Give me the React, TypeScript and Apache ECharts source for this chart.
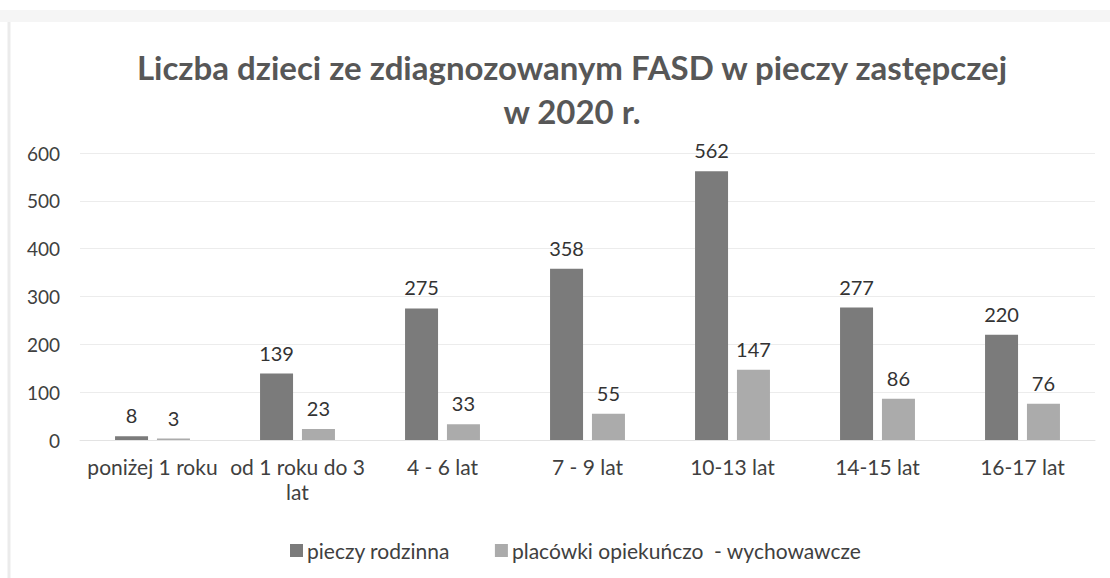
import React, { useEffect, useRef } from "react";
import * as echarts from "echarts";

const categories = ["poniżej 1 roku", "od 1 roku do 3\nlat", "4 - 6 lat", "7 - 9 lat", "10-13 lat", "14-15 lat", "16-17 lat"];
const seriesNames = ["pieczy rodzinna", "placówki opiekuńczo  - wychowawcze"];
const rodzinna = [8, 139, 275, 358, 562, 277, 220];
const placowki = [3, 23, 33, 55, 147, 86, 76];
const yTicks = { min: 0, max: 600, interval: 100 };
const titleText = "Liczba dzieci ze zdiagnozowanym FASD w pieczy zastępczej\nw 2020 r.";

export default function App() {
  const ref = useRef<HTMLDivElement>(null);
  useEffect(() => {
    document.body.style.margin = "0";
    const chart = echarts.init(ref.current!, null, { renderer: "svg" });
    const font = "Lato";
    chart.setOption({
      animation: false,
      backgroundColor: "#ffffff",
      title: {
        text: titleText,
        left: 567,
        textAlign: "center",
        top: 40,
        textStyle: {
          fontFamily: font,
          fontWeight: "bold",
          fontSize: 33,
          color: "#575757",
          lineHeight: 44,
        },
      },
      graphic: [
        { type: "rect", shape: { x: 0, y: 10, width: 1110, height: 12 }, style: { fill: "#f5f5f5" }, silent: true },
        { type: "line", shape: { x1: 9, y1: 22, x2: 9, y2: 578 }, style: { stroke: "#ebebeb", lineWidth: 3 }, silent: true },
      ],
      legend: {
        data: seriesNames,
        top: 535,
        left: 285,
        itemWidth: 13,
        itemHeight: 13,
        itemGap: 45,
        icon: "rect",
        textStyle: { fontFamily: font, fontSize: 21, color: "#404040", padding: [0, 0, 0, -1] },
      },
      grid: { left: 80, right: 15, top: 153, bottom: 138 },
      xAxis: {
        type: "category",
        data: categories,
        axisLine: { show: true, lineStyle: { color: "#e3e3e3", width: 1 } },
        axisTick: { show: false },
        axisLabel: {
          interval: 0,
          margin: 14,
          fontFamily: font,
          fontSize: 21,
          lineHeight: 25,
          color: "#404040",
        },
      },
      yAxis: {
        type: "value",
        min: yTicks.min,
        max: yTicks.max,
        interval: yTicks.interval,
        axisLine: { show: false },
        axisTick: { show: false },
        splitLine: { lineStyle: { color: "#ececec", width: 1 } },
        axisLabel: { fontFamily: font, fontSize: 19, color: "#404040", margin: 20 },
      },
      series: [
        {
          name: seriesNames[0],
          type: "bar",
          data: rodzinna,
          barWidth: 33,
          barGap: "27%",
          itemStyle: { color: "#7b7b7b" },
          label: { show: true, position: "top", distance: 11, fontFamily: font, fontSize: 20, color: "#333333" },
        },
        {
          name: seriesNames[1],
          type: "bar",
          data: placowki,
          barWidth: 33,
          barGap: "27%",
          itemStyle: { color: "#ababab" },
          label: { show: true, position: "top", distance: 11, fontFamily: font, fontSize: 20, color: "#333333" },
        },
      ],
    });
    return () => chart.dispose();
  }, []);
  return <div ref={ref} style={{ width: 1110, height: 578, position: "absolute", left: 0, top: 0 }} />;
}
